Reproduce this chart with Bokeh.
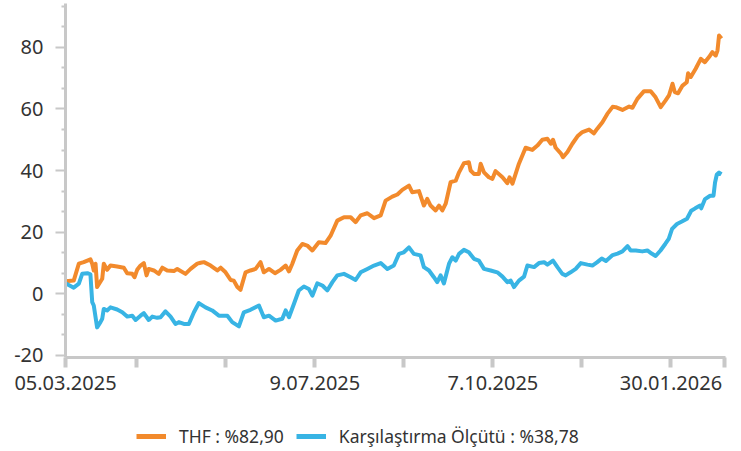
from bokeh.plotting import figure
from bokeh.layouts import column
from bokeh.models import Range1d, FixedTicker, Legend, LegendItem
from bokeh.embed import file_html
from bokeh.resources import INLINE

# trading-day index of each reading and the cumulative return (%)
thf_day = [0, 3.7, 6.0, 8.2, 11.2, 12.0, 12.7, 13.5, 14.2, 16.5, 17.2, 18.7, 20.2, 23.2, 26.2, 27.7,
           30.0, 31.0, 32.2, 33.7, 35.2, 36.4, 37.4, 39.7, 41.9, 43.5, 45.7, 48.7, 50.2, 53.9, 56.2,
           59.2, 60.7, 62.2, 65.2, 68.2, 69.7, 71.9, 74.2, 75.6, 77.2, 78.6, 80.9, 83.1, 85.4, 87.6,
           89.1, 91.4, 94.1, 96.6, 98.9, 100.4, 101.9, 104.1, 106.4, 108.6, 110.9, 113.8, 116.8,
           119.1, 122.1, 125.1, 128.1, 130.3, 132.6, 135.6, 138.6, 141.6, 143.8, 146.8, 149.1,
           151.3, 154.3, 155.8, 158.8, 161.0, 162.5, 164.0, 166.3, 167.8, 169.3, 170.8, 173.0,
           175.3, 176.8, 179.0, 181.2, 182.0, 183.5, 185.7, 186.5, 188.0, 190.2, 191.8, 193.2,
           196.3, 198.5, 199.5, 200.8, 203.7, 206.7, 209.7, 212.0, 214.2, 216.5, 218.0, 219.0,
           220.2, 222.5, 223.5, 225.5, 227.7, 230.0, 232.2, 235.2, 237.4, 238.9, 241.2, 243.4,
           245.8, 247.2, 250.2, 253.2, 254.7, 256.9, 259.9, 262.9, 265.1, 267.4, 269.6, 271.1,
           272.7, 273.7, 275.2, 277.2, 279.1, 279.7, 280.9, 283.1, 285.4, 287.2, 289.1, 290.6,
           292.1, 292.9, 293.6, 294.7]
thf_val = [4.0, 4.2, 9.7, 10.2, 11.1, 9.7, 7.5, 9.7, 2.1, 4.8, 9.7, 7.7, 9.1, 8.8, 8.4, 6.6,
           6.4, 5.3, 7.7, 9.1, 9.9, 5.9, 8.0, 7.5, 6.4, 8.4, 7.5, 7.3, 8.0, 6.4, 8.0,
           9.7, 10.0, 10.2, 9.1, 7.5, 8.4, 6.9, 4.4, 4.2, 2.1, 1.2, 6.9, 7.5, 8.0, 10.2,
           6.9, 8.0, 6.6, 7.7, 9.1, 7.2, 9.7, 14.0, 16.1, 15.6, 14.0, 16.7, 16.4,
           18.8, 23.7, 24.8, 24.8, 23.2, 25.4, 26.1, 24.5, 25.4, 30.2, 31.5, 32.2,
           33.7, 35.1, 32.9, 33.3, 28.6, 30.8, 28.6, 27.0, 28.6, 27.0, 29.2, 36.2,
           36.7, 39.4, 42.4, 42.7, 40.0, 38.9, 38.9, 42.2, 39.4, 37.8, 37.3, 39.8,
           37.8, 35.9, 37.8, 35.7, 42.2, 47.4, 46.7, 48.1, 50.0, 50.3, 48.7, 50.0,
           47.4, 45.6, 44.3, 46.0, 48.7, 51.1, 52.5, 53.3, 52.1, 53.6, 55.7, 58.4,
           60.7, 60.6, 59.7, 60.8, 60.4, 63.3, 65.8, 65.8, 63.8, 60.6, 62.8, 64.4,
           68.2, 65.5, 65.1, 67.6, 68.7, 71.6, 70.4, 73.1, 76.3, 75.2, 76.9, 78.5,
           77.4, 79.0, 83.9, 82.9]

bm_day = [0, 3.7, 6.0, 7.5, 9.8, 11.2, 12.0, 12.7, 14.2, 15.7, 16.5, 17.2, 18.7, 20.2, 23.2, 25.5,
          27.7, 30.0, 31.5, 33.7, 35.2, 37.4, 39.0, 41.2, 42.7, 44.9, 47.2, 49.4, 50.9, 53.2,
          55.4, 57.7, 59.9, 62.9, 65.9, 68.9, 72.7, 74.9, 77.9, 80.1, 83.1, 86.9, 89.1, 91.4,
          94.4, 97.4, 98.9, 100.4, 102.6, 104.8, 107.1, 109.3, 110.9, 113.1, 115.4, 117.6,
          119.9, 122.1, 125.1, 128.1, 130.3, 132.6, 135.6, 138.6, 141.6, 144.6, 147.5, 149.8,
          152.0, 154.3, 156.5, 159.5, 161.0, 163.3, 165.5, 167.0, 168.5, 170.0, 172.3, 173.8,
          175.3, 176.8, 179.0, 181.2, 183.5, 185.7, 188.0, 191.0, 194.0, 196.3, 198.5, 200.0,
          201.5, 203.7, 206.0, 207.5, 210.5, 212.7, 215.0, 216.5, 219.0, 221.0, 223.2, 224.7,
          226.9, 229.2, 231.5, 234.5, 236.7, 238.9, 240.9, 242.8, 245.8, 248.0, 250.2, 252.5,
          253.9, 256.2, 259.1, 261.4, 263.3, 265.1, 267.3, 269.5, 271.0, 272.5, 274.7, 276.9,
          279.2, 281.1, 282.9, 285.1, 285.6, 287.3, 289.6, 291.1, 291.8, 292.6, 293.6, 294.7]
bm_val = [3.3, 1.9, 3.2, 6.4, 6.6, 6.2, -2.8, -3.9, -11.0, -9.3, -8.2, -5.0, -5.5, -4.5, -5.2, -6.1,
          -7.5, -7.2, -8.6, -7.2, -6.4, -8.6, -7.5, -7.9, -7.7, -5.8, -7.5, -9.9, -9.3, -9.9,
          -9.9, -6.1, -3.1, -4.5, -5.5, -7.2, -7.2, -9.3, -10.7, -6.1, -5.3, -3.9, -7.7, -7.2,
          -8.8, -8.2, -5.5, -7.7, -3.4, 1.0, 2.3, 1.5, -0.7, 3.3, 2.6, 1.0,
          3.7, 5.9, 6.4, 5.3, 4.4, 6.9, 8.0, 9.1, 9.9, 8.0, 9.1, 12.9,
          13.4, 15.0, 12.9, 12.4, 8.6, 7.5, 5.3, 3.7, 5.9, 3.3, 9.7, 11.8,
          10.7, 12.9, 14.2, 13.4, 11.3, 10.7, 8.0, 7.5, 6.9, 5.5, 3.7, 4.2,
          2.1, 4.2, 5.5, 9.1, 8.6, 9.9, 10.2, 9.4, 10.7, 8.6, 6.4, 5.9,
          6.9, 8.0, 9.9, 9.4, 9.1, 10.2, 11.4, 10.6, 12.5, 13.0, 13.7, 15.4,
          14.0, 14.0, 13.7, 14.0, 13.0, 12.2, 14.0, 16.2, 17.8, 21.0, 22.6, 23.4,
          24.3, 26.9, 27.7, 28.6, 27.7, 30.7, 31.8, 31.8, 36.1, 38.7, 39.3, 38.8]

tick_days = [0, 32, 72, 112, 152, 192, 232, 272, 296]
tick_labels = {0: "05.03.2025", 112: "9.07.2025", 192: "7.10.2025", 272: "30.01.2026"}
y_ticks = [-20, 0, 20, 40, 60, 80]

names = ["THF : %82,90", "Karşılaştırma Ölçütü : %38,78"]
colors = ["#F28A2C", "#38B4E4"]

FONT = "Noto Sans"
TXT = "#333333"
AX = "#C8C8C8"

p = figure(width=741, height=405, output_backend="svg", toolbar_location=None,
           x_range=Range1d(0, 296.5), y_range=Range1d(-20.8, 94.3),
           min_border_left=65, min_border_right=16, min_border_top=3, min_border_bottom=48)
p.outline_line_color = None
p.xgrid.visible = False
p.ygrid.visible = False

p.line(thf_day, thf_val, line_color=colors[0], line_width=4, line_join="round")
p.line(bm_day, bm_val, line_color=colors[1], line_width=4, line_join="round")

minor = [a + d for a in y_ticks for d in (20 / 3, 40 / 3)]
p.yaxis.ticker = FixedTicker(ticks=y_ticks, minor_ticks=minor)
p.yaxis.major_label_overrides = {t: str(t) for t in y_ticks}
p.xaxis.ticker = FixedTicker(ticks=tick_days, minor_ticks=[])
p.xaxis.major_label_overrides = {t: tick_labels.get(t, "") for t in tick_days}

for ax in (p.xaxis[0], p.yaxis[0]):
    ax.axis_line_color = AX
    ax.axis_line_width = 3
    ax.major_tick_line_color = AX
    ax.minor_tick_line_color = AX
    ax.major_tick_in = 0
    ax.minor_tick_in = 0
    ax.major_label_text_font = FONT
    ax.major_label_text_color = TXT
    ax.major_label_text_font_size = "20px"

p.yaxis.major_tick_out = 10
p.yaxis.major_tick_line_width = 2
p.yaxis.minor_tick_out = 4
p.yaxis.minor_tick_line_width = 2
p.yaxis.major_label_standoff = 12

p.xaxis.major_tick_out = 10
p.xaxis.major_tick_line_width = 4
p.xaxis.major_label_standoff = 8

# legend strip below the chart (key lines lie outside its visible range)
lg = figure(width=741, height=46, output_backend="svg", toolbar_location=None,
            x_range=Range1d(0, 1), y_range=Range1d(0, 1),
            x_axis_type=None, y_axis_type=None, min_border=0)
lg.outline_line_color = None
lg.xgrid.visible = False
lg.ygrid.visible = False
k1 = lg.line([5, 6], [5, 6], line_color=colors[0], line_width=5)
k2 = lg.line([5, 6], [5, 6], line_color=colors[1], line_width=5)
legend = Legend(items=[LegendItem(label=names[0], renderers=[k1]),
                       LegendItem(label=names[1], renderers=[k2])],
                orientation="horizontal", location=(71, 3),
                label_text_font=FONT, label_text_color=TXT, label_text_font_size="17.5px",
                glyph_width=30, glyph_height=20, label_standoff=13, spacing=12,
                padding=2, margin=0, border_line_color=None, background_fill_alpha=0)
lg.add_layout(legend, "center")

layout = column(p, lg, spacing=0)
open("out.html", "w").write(file_html(layout, INLINE))
